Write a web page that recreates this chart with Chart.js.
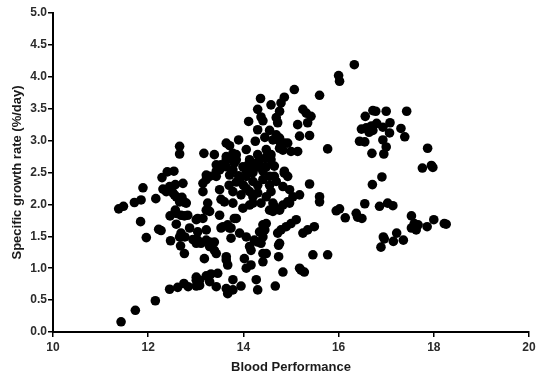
<!DOCTYPE html>
<html>
<head>
<meta charset="utf-8">
<script src="https://cdn.jsdelivr.net/npm/chart.js@4/dist/chart.umd.min.js"></script>
<style>
  html, body { margin: 0; padding: 0; background: #fff; }
  #wrap { width: 550px; height: 383px; }
</style>
</head>
<body>
<div id="wrap"><canvas id="scatterChart" width="550" height="383"></canvas></div>
<script>
// Blood performance (x) and specific growth rate (y)
var bloodPerf = [
  11.43, 11.73, 12.15, 11.38, 11.48, 11.71, 11.85, 11.89, 11.84, 11.96,
  12.16, 12.22, 12.27, 12.47, 12.45, 12.62, 12.75, 12.84, 12.66, 12.66,
  12.29, 12.40, 12.54, 12.31, 12.38, 12.45, 12.57, 12.73, 12.52, 12.59,
  12.71, 12.66, 12.77, 12.57, 12.59, 12.46, 12.76, 12.59, 12.69, 12.77,
  12.87, 12.68, 12.76, 12.94, 13.01, 13.01, 13.01, 13.01, 12.48, 12.55,
  12.69, 12.83, 12.80, 12.66,
  13.17, 13.39, 13.53, 13.64, 13.22, 13.29, 13.15, 13.50, 13.53, 13.25,
  13.22, 13.29, 13.04, 13.22, 13.04, 13.22, 13.11, 13.29, 13.39, 13.43,
  13.18, 13.50, 13.57, 13.64, 13.67, 13.01, 13.08, 13.22, 13.32, 13.46,
  13.29, 13.08, 13.43, 13.64, 13.67, 13.15, 13.39, 13.29, 13.60,
  13.78, 13.95, 14.30, 14.27, 14.67, 14.83, 15.18, 15.28, 13.78, 13.64,
  14.06, 14.16, 14.02, 14.41, 14.41, 14.48, 14.74, 14.74, 14.13, 14.16,
  13.92, 14.06, 14.23, 14.30, 14.37, 14.34, 14.41, 14.48, 13.74, 13.74,
  13.67, 13.53, 13.81, 14.72, 14.79, 14.90, 15.00, 15.11, 15.25, 15.35,
  15.49, 15.46, 15.77, 15.60, 13.78, 14.13, 14.30, 14.48, 14.62, 14.83,
  14.93, 15.04, 15.18, 13.78, 13.99, 14.13, 14.37, 14.55, 14.76, 14.76,
  14.62, 14.45, 14.41, 13.85, 13.04, 13.71,
  15.07, 15.60, 14.36, 14.86, 14.58, 14.79, 14.30, 14.76, 15.25, 15.32,
  14.37, 14.69, 15.42, 14.11, 14.41, 14.72, 15.14, 15.35, 14.30, 14.55,
  14.69, 15.18, 15.39, 14.45, 13.90, 14.25, 14.62, 14.76, 13.64, 13.71,
  14.93, 14.79, 15.77, 14.06, 14.48, 14.83, 15.00, 15.14, 13.64, 13.85,
  14.30, 14.58, 13.43, 13.85, 14.13, 14.34, 13.50, 13.78, 13.99, 14.23,
  14.48, 14.58, 14.86, 14.93, 15.39, 15.60, 13.22, 13.43, 13.71, 14.06,
  13.92, 14.20, 14.41, 14.55, 14.69, 14.83, 14.97, 13.15, 14.06, 14.58,
  14.20, 14.65, 14.97,
  16.33, 16.00, 16.02, 16.72, 16.78, 17.00, 17.43, 16.56, 16.48, 16.58,
  16.69, 16.80, 16.93, 17.08, 16.72, 16.64, 17.07, 17.31, 17.39, 16.44,
  16.55, 16.93, 17.00, 16.95, 16.70, 17.87, 17.76, 17.95, 17.98, 16.91,
  16.71, 15.95, 16.02, 16.14, 16.37, 16.40, 16.49, 16.55, 16.86, 17.03,
  17.14, 17.53, 17.59, 17.53, 17.63, 17.67, 17.86, 18.00, 18.22, 18.26,
  17.22, 16.94, 16.96, 17.15, 17.36, 16.89, 15.21,
  13.78, 13.71, 13.43, 13.64, 13.81, 14.06, 14.27, 14.37, 14.45, 14.51,
  14.76, 14.86, 14.76, 14.41, 14.65, 14.86,
  13.90, 14.00, 14.20, 14.30, 14.10, 13.85, 14.20, 13.95, 14.55, 13.70,
  14.65
];

var growthRate = [
  0.16, 0.34, 0.49, 1.93, 1.97, 2.03, 2.07, 2.26, 1.73, 1.48,
  2.09, 1.61, 1.59, 1.43, 0.67, 0.70, 0.76, 0.71, 2.91, 2.79,
  2.42, 2.51, 2.52, 2.24, 2.20, 2.28, 2.31, 2.33, 2.18, 2.12,
  2.11, 2.04, 2.03, 1.91, 1.86, 1.82, 1.82, 1.69, 1.55, 1.49,
  1.63, 1.35, 1.23, 1.45, 1.39, 1.76, 0.81, 0.72, 2.24, 2.15,
  1.83, 1.83, 2.02, 1.49,
  2.80, 2.78, 2.62, 2.70, 2.46, 2.44, 2.33, 2.23, 2.08, 2.02,
  1.91, 1.89, 1.78, 1.60, 1.57, 1.44, 1.39, 1.34, 1.28, 1.23,
  1.15, 1.83, 1.65, 1.18, 1.05, 0.86, 0.81, 0.88, 0.91, 0.92,
  0.79, 0.73, 0.71, 0.68, 0.60, 1.78, 1.41, 1.41, 2.04,
  0.66, 0.72, 0.66, 0.82, 0.72, 0.94, 1.00, 0.94, 0.82, 1.13,
  1.00, 1.05, 1.15, 1.10, 1.23, 1.23, 1.18, 1.36, 1.34, 1.28,
  1.55, 1.49, 1.44, 1.41, 1.39, 1.57, 1.68, 1.70, 1.47, 1.63,
  1.68, 1.63, 1.78, 1.55, 1.60, 1.65, 1.70, 1.76, 1.55, 1.60,
  1.65, 1.21, 1.21, 2.04, 2.20, 2.20, 2.18, 2.12, 2.02, 1.99,
  2.04, 2.12, 2.15, 2.02, 1.94, 1.99, 2.02, 1.91, 1.91, 1.39,
  1.89, 1.60, 1.49, 1.78, 1.44, 1.63,
  3.80, 3.71, 3.66, 3.68, 3.56, 3.59, 3.49, 3.46, 3.49, 3.43,
  3.37, 3.36, 3.38, 3.30, 3.31, 3.28, 3.25, 3.28, 3.17, 3.16,
  3.09, 3.07, 3.08, 3.05, 3.01, 2.99, 3.01, 3.04, 2.96, 2.92,
  2.96, 2.91, 2.87, 2.86, 2.86, 2.85, 2.83, 2.83, 2.75, 2.78,
  2.78, 2.78, 2.62, 2.70, 2.70, 2.70, 2.54, 2.54, 2.59, 2.57,
  2.59, 2.70, 2.49, 2.44, 2.32, 2.12, 2.39, 2.44, 2.46, 2.44,
  2.36, 2.36, 2.39, 2.44, 2.36, 2.28, 2.23, 2.20, 2.25, 2.20,
  2.02, 1.97, 2.02,
  4.19, 4.02, 3.93, 3.47, 3.46, 3.46, 3.46, 3.38, 3.18, 3.20,
  3.23, 3.27, 3.21, 3.28, 3.16, 3.13, 3.12, 3.19, 3.06, 2.99,
  2.98, 3.01, 2.90, 2.79, 2.80, 2.88, 2.57, 2.61, 2.58, 2.43,
  2.31, 1.90, 1.93, 1.79, 1.86, 1.80, 1.78, 2.01, 1.97, 2.02,
  1.98, 1.82, 1.70, 1.63, 1.60, 1.68, 1.65, 1.76, 1.70, 1.69,
  1.55, 1.49, 1.46, 1.42, 1.44, 1.33, 0.97,
  2.80, 2.72, 2.52, 2.59, 2.65, 2.52, 2.65, 2.59, 2.72, 2.78,
  2.99, 2.96, 2.88, 2.52, 2.44, 2.52,
  2.45, 2.30, 2.50, 2.30, 2.62, 2.35, 2.12, 2.15, 2.30, 2.30,
  2.60
];

var xRange = [10, 20];
var yRange = [0, 5];

var points = bloodPerf.map(function(x, i) {
    return { x: x, y: growthRate[i] };
});

var tickFont = { family: 'Arial, "Liberation Sans", sans-serif', size: 12, weight: 'bold' };
var titleFont = { family: 'Arial, "Liberation Sans", sans-serif', size: 13, weight: 'bold' };

var ctx = document.getElementById('scatterChart').getContext('2d');
var chart = new Chart(ctx, {
    type: 'scatter',
    data: {
        datasets: [{
            label: 'Specific growth rate',
            data: points,
            backgroundColor: '#000',
            borderColor: '#000',
            borderWidth: 0,
            pointRadius: 4.8
        }]
    },
    options: {
        responsive: false,
        animation: false,
        layout: { padding: { left: 0, right: 21, top: 13, bottom: 0 } },
        plugins: {
            legend: { display: false },
            tooltip: { enabled: false }
        },
        scales: {
            x: {
                type: 'linear',
                min: xRange[0],
                max: xRange[1],
                ticks: { stepSize: 2, font: tickFont, color: '#2b2b2b', padding: 3 },
                grid: { drawOnChartArea: false, drawTicks: true, tickLength: 5, color: '#000', lineWidth: 1.5 },
                border: { display: true, color: '#000', width: 2 },
                title: { display: true, text: 'Blood Performance', font: titleFont, color: '#1a1a1a', padding: { top: 4, bottom: 8 } },
                afterFit: function(scale) { scale.height = 51; }
            },
            y: {
                type: 'linear',
                min: yRange[0],
                max: yRange[1],
                ticks: {
                    stepSize: 0.5,
                    font: tickFont,
                    color: '#2b2b2b',
                    padding: 1,
                    callback: function(v) { return Number(v).toFixed(1); }
                },
                grid: { drawOnChartArea: false, drawTicks: true, tickLength: 5, color: '#000', lineWidth: 1.5 },
                border: { display: true, color: '#000', width: 2 },
                title: { display: true, text: 'Specific growth rate (%/day)', font: titleFont, color: '#1a1a1a', padding: { top: 10, bottom: 0 } },
                afterFit: function(scale) { scale.width = 53; }
            }
        }
    }
});
</script>
</body>
</html>
